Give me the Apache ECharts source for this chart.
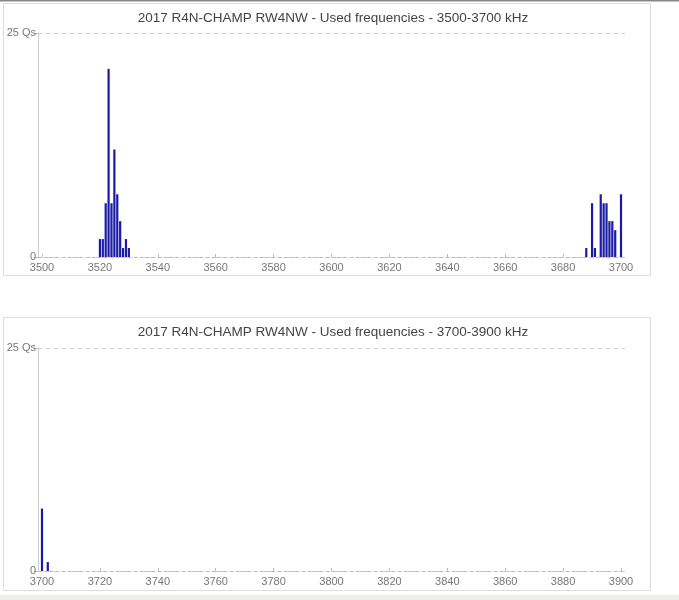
<!DOCTYPE html>
<html><head><meta charset="utf-8">
<script src="https://cdn.jsdelivr.net/npm/echarts@6/dist/echarts.min.js"></script>
<style>html,body{margin:0;padding:0;background:#fff}#c{width:679px;height:600px}</style>
</head><body><div id="c"></div>
<script>
const title1 = '2017 R4N-CHAMP RW4NW - Used frequencies - 3500-3700 kHz';
const title2 = '2017 R4N-CHAMP RW4NW - Used frequencies - 3700-3900 kHz';
const freq1 = [3520,3521,3522,3523,3524,3525,3526,3527,3528,3529,3530,3688,3690,3691,3693,3694,3695,3696,3697,3698,3700];
const qs1   = [2,2,6,21,6,12,7,4,1,2,1,1,6,1,7,6,6,4,4,3,7];
const freq2 = [3700,3702];
const qs2   = [7,1];
const ticks1 = [3500,3520,3540,3560,3580,3600,3620,3640,3660,3680,3700];
const ticks2 = [3700,3720,3740,3760,3780,3800,3820,3840,3860,3880,3900];
const yMax = 25;

const pad = 4/2.895;
function xAx(idx, ticks){
  return {type:'value', gridIndex:idx, min:ticks[0]-pad, max:ticks[ticks.length-1]+pad,
    axisLine:{show:true,lineStyle:{color:'#bbb',type:[3,3],width:1}},
    axisTick:{show:true,length:3,inside:true,customValues:ticks,lineStyle:{color:'#bbb'}},
    axisLabel:{customValues:ticks,color:'#777',fontSize:11,fontFamily:'Liberation Sans',margin:5,
      formatter:v=>String(v)},
    splitLine:{show:false}};
}
function yAx(idx){
  return {type:'value', gridIndex:idx, min:0, max:yMax, interval:yMax,
    axisLine:{show:true,lineStyle:{color:'#ccc'}},
    axisTick:{show:true,length:4,lineStyle:{color:'#bbb'}},
    axisLabel:{color:'#777',fontSize:11,fontFamily:'Liberation Sans',margin:2,
      formatter:v=> v===yMax? yMax+' Qs' : String(v)},
    splitLine:{show:true,lineStyle:{color:'#ccc',type:[4,4]}}};
}
const chart = echarts.init(document.getElementById('c'));
chart.setOption({
  animation:false,
  backgroundColor:'#fff',
  title:[
    {text:title1,left:328,top:6,textAlign:'center',textStyle:{fontSize:13.5,fontWeight:'normal',color:'#444',fontFamily:'Liberation Sans'}},
    {text:title2,left:328,top:320,textAlign:'center',textStyle:{fontSize:13.5,fontWeight:'normal',color:'#444',fontFamily:'Liberation Sans'}}
  ],
  graphic:[
    {type:'rect',shape:{x:3.5,y:3.5,width:647,height:272},style:{fill:'none',stroke:'#ddd',lineWidth:1},z:-1},
    {type:'rect',shape:{x:3.5,y:317.5,width:647,height:273},style:{fill:'none',stroke:'#ddd',lineWidth:1},z:-1},
    {type:'rect',shape:{x:0,y:0,width:679,height:1.5},style:{fill:'#888'},z:-1},
    {type:'rect',shape:{x:0,y:595,width:679,height:5},style:{fill:'#eeeeea'},z:-1}
  ],
  grid:[
    {left:38,width:587,top:33,height:224},
    {left:38,width:587,top:348,height:223}
  ],
  xAxis:[xAx(0,ticks1), xAx(1,ticks2)],
  yAxis:[yAx(0), yAx(1)],
  series:[
    {type:'bar',xAxisIndex:0,yAxisIndex:0,barWidth:2.2,itemStyle:{color:'#1a1aa6'},
      data:freq1.map((f,i)=>[f,qs1[i]])},
    {type:'bar',xAxisIndex:1,yAxisIndex:1,barWidth:2.2,itemStyle:{color:'#1a1aa6'},
      data:freq2.map((f,i)=>[f,qs2[i]])}
  ]
});
</script></body></html>
